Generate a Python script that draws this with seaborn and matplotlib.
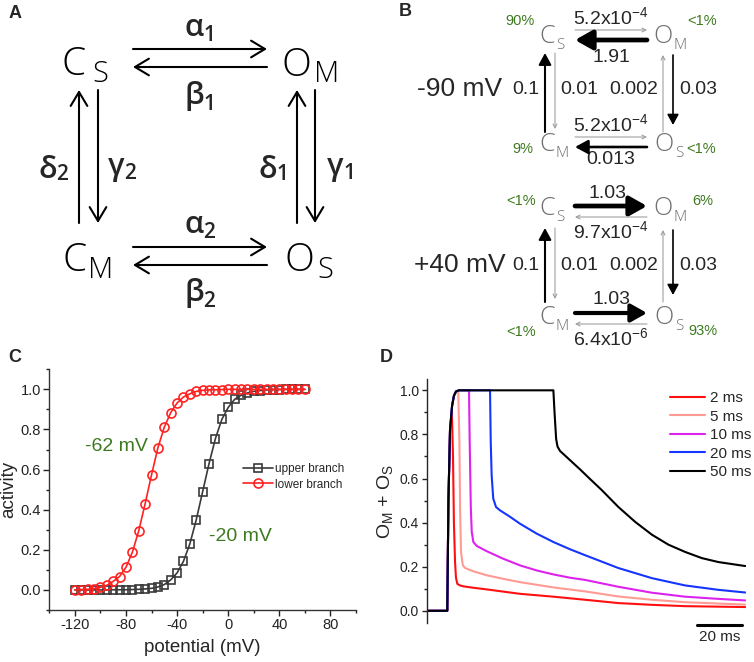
import matplotlib.pyplot as plt
import seaborn as sns
from matplotlib.ticker import MultipleLocator

# ---- panel C: activity vs potential ----
potential = [-120, -115, -110, -105, -100, -95, -90, -85, -80, -75, -70, -65, -60,
             -55, -50, -45, -40, -35, -30, -25, -20, -15, -10, -5, 0, 5, 10, 15,
             20, 25, 30, 35, 40, 45, 50, 55, 60]
upper_branch = [0.0, 0.0, 0.0, 0.0, 0.0, 0.0, 0.001, 0.001, 0.001, 0.002, 0.003, 0.005,
                0.008, 0.015, 0.027, 0.05, 0.085, 0.143, 0.23, 0.35, 0.49, 0.63, 0.755,
                0.85, 0.91, 0.95, 0.97, 0.982, 0.99, 0.994, 0.997, 0.998, 0.999, 1.0,
                1.0, 1.0, 1.0]
lower_branch = [0.0, 0.002, 0.003, 0.007, 0.013, 0.023, 0.043, 0.067, 0.113, 0.188,
                0.295, 0.43, 0.574, 0.709, 0.812, 0.884, 0.932, 0.962, 0.978, 0.99,
                0.995, 0.997, 0.998, 0.999, 1.0, 1.0, 1.0, 1.0, 1.0, 1.0, 1.0, 1.0,
                1.0, 1.0, 1.0, 1.0, 1.0]

# ---- panel D: O_M + O_S after pulses of different length (time in ms) ----
pulse_labels = ['2 ms', '5 ms', '10 ms', '20 ms', '50 ms']
t_2 = [0, 9.0, 9.5, 10.2, 11.0, 11.5, 11.9, 12.4, 12.8, 13.4, 14.6, 16.0, 20.0, 26.3,
       33.5, 40.8, 55.4, 69.3, 83.8, 98.5, 113.0, 139.3]
o_2 = [0, 0, 0.5, 0.82, 0.9, 0.7, 0.4, 0.22, 0.15, 0.122, 0.115, 0.111, 0.105, 0.097,
       0.087, 0.077, 0.064, 0.05, 0.035, 0.027, 0.021, 0.017]
t_5 = [0, 9.0, 9.5, 10.2, 11.1, 11.9, 12.8, 13.8, 14.3, 14.6, 15.0, 15.8, 16.8, 20.4,
       26.3, 33.5, 40.8, 55.4, 69.3, 83.8, 98.5, 113.0, 139.3]
o_5 = [0, 0, 0.5, 0.82, 0.93, 0.975, 0.99, 0.994, 0.767, 0.464, 0.267, 0.206, 0.194,
       0.179, 0.161, 0.145, 0.130, 0.106, 0.088, 0.065, 0.05, 0.039, 0.028]
t_10 = [0, 9.0, 9.5, 10.2, 11.1, 11.9, 12.8, 14.1, 18.5, 18.8, 19.3, 19.7, 20.4, 21.9,
        26.3, 33.5, 40.8, 48.1, 55.4, 62.7, 69.3, 83.8, 98.5, 113.0, 127.6, 139.3]
o_10 = [0, 0, 0.5, 0.82, 0.93, 0.975, 0.995, 1.0, 1.0, 0.767, 0.464, 0.358, 0.312,
        0.294, 0.270, 0.236, 0.206, 0.183, 0.165, 0.15, 0.14, 0.109, 0.082, 0.064,
        0.054, 0.047]
t_20 = [0, 9.0, 9.5, 10.2, 11.1, 11.9, 12.8, 14.1, 27.7, 28.0, 28.4, 29.1, 30.3, 32.0,
        36.5, 40.8, 48.1, 55.4, 62.7, 69.3, 83.8, 98.5, 113.0, 127.6, 139.3]
o_20 = [0, 0, 0.5, 0.82, 0.93, 0.975, 0.995, 1.0, 1.0, 0.767, 0.615, 0.509, 0.471,
        0.456, 0.426, 0.395, 0.35, 0.312, 0.279, 0.252, 0.194, 0.148, 0.115, 0.095,
        0.083]
t_50 = [0, 9.0, 9.5, 10.2, 11.1, 11.9, 12.8, 14.1, 55.4, 55.9, 56.6, 57.2, 58.3, 62.7,
        67.1, 71.5, 76.6, 83.8, 91.2, 98.5, 105.7, 113.0, 120.3, 127.6, 139.3]
o_50 = [0, 0, 0.5, 0.82, 0.93, 0.975, 0.995, 1.0, 1.0, 0.9, 0.78, 0.745, 0.725, 0.683,
        0.641, 0.597, 0.547, 0.471, 0.403, 0.345, 0.300, 0.267, 0.239, 0.221, 0.203]
pulse_colors = ['#ff1010', '#ff9a94', '#dd22ee', '#1535ff', '#000000']

# ---- panel B: rates and occupancies at the two potentials ----
b_voltages = ['-90 mV', '+40 mV']
b_rates = [['5.2x10$^{-4}$', '1.91', '5.2x10$^{-4}$', '0.013'],
           ['1.03', '9.7x10$^{-4}$', '1.03', '6.4x10$^{-6}$']]
b_vertical = ['0.1', '0.01', '0.002', '0.03']
b_occupancy = [['90%', '<1%', '9%', '<1%'], ['<1%', '6%', '<1%', '93%']]

green = '#3d7a1f'
gray = '#9a9a9a'

sns.set_style('ticks')
plt.rcParams['font.family'] = ['Liberation Sans', 'DejaVu Sans']
plt.rcParams['mathtext.fontset'] = 'custom'
plt.rcParams['mathtext.rm'] = 'Liberation Sans'
plt.rcParams['mathtext.it'] = 'Liberation Sans:italic'
plt.rcParams['mathtext.bf'] = 'Liberation Sans:bold'
plt.rcParams['mathtext.default'] = 'regular'
plt.rcParams['axes.unicode_minus'] = False

fig = plt.figure(figsize=(7.54, 6.62), dpi=100)

# overlay in pixel coordinates for the two schemes
ax0 = fig.add_axes([0, 0, 1, 1])
ax0.set_xlim(0, 754)
ax0.set_ylim(662, 0)
ax0.axis('off')

thin = ['Open Sans', 'DejaVu Sans']


def state(x, y, main, sub, size, subsize, dx, dy, color='k'):
    ax0.text(x, y, main, fontsize=size, ha='center', va='baseline', color=color,
             family=thin, weight='light')
    ax0.text(x + dx, y + dy, sub, fontsize=subsize, ha='center', va='baseline',
             color=color, family=thin, weight='light')


def greek(x, y, main, sub, dx, dy):
    ax0.text(x, y, main, fontsize=22, ha='center', va='baseline', family=thin,
             weight='semibold')
    ax0.text(x + dx, y + dy, sub, fontsize=15, ha='center', va='baseline',
             family=thin, weight='semibold')


def arrow(x0, y0, x1, y1, lw, color='k', style='->', ms=12):
    ax0.annotate('', xy=(x1, y1), xytext=(x0, y0),
                 arrowprops=dict(arrowstyle=style, lw=lw, color=color,
                                 shrinkA=0, shrinkB=0, mutation_scale=ms))


# ---- panel A ----
state(74, 75, 'C', 'S', 28, 21, 26, 7)
state(296, 76, 'O', 'M', 28, 21, 31, 6)
state(75, 271, 'C', 'M', 28, 21, 26, 7)
state(299, 271, 'O', 'S', 28, 21, 26, 7)
a_head = '->,head_length=0.5,head_width=0.3'
for x0, y0, x1, y1 in [(133, 49, 267, 49), (267, 67, 133, 67),
                       (133, 247, 267, 247), (267, 265, 133, 265),
                       (79, 223, 79, 90), (98, 90, 98, 223),
                       (297, 223, 297, 90), (315, 90, 315, 223)]:
    arrow(x0, y0, x1, y1, 1.5, style=a_head, ms=20)
greek(194, 36, 'α', '1', 15, 5)
greek(194, 104, 'β', '1', 15, 6)
greek(194, 233, 'α', '2', 15, 5)
greek(194, 301, 'β', '2', 15, 6)
greek(48, 178, 'δ', '2', 14, 2)
greek(116, 175, 'γ', '2', 14, 4)
greek(268, 178, 'δ', '1', 14, 2)
greek(335, 175, 'γ', '1', 14, 4)

# ---- panel B ----
bs_gray = '#707070'
thick = '-|>,head_length=0.8,head_width=0.45'
med = '-|>,head_length=0.7,head_width=0.38'
state_y = [(43, 151), (215, 324)]
volt_y = [89, 265]
pct_xy = [[(520, 21), (702, 21), (523, 149), (701, 149)],
          [(521, 201), (703, 201), (521, 332), (703, 331)]]
rate_xy = [[(611, 17), (611, 57), (611, 124), (611, 159)],
           [(608, 193), (611, 231), (611, 300), (611, 338)]]
vert_y = [(53, 132), (228, 302)]
for i in range(2):
    top_y, bot_y = state_y[i]
    state(547, top_y, 'C', 'S', 18, 11, 13, 6, bs_gray)
    state(663, top_y, 'O', 'M', 18, 11, 17, 6, bs_gray)
    state(547, bot_y, 'C', 'M', 18, 11, 15, 6, bs_gray)
    state(664, bot_y, 'O', 'S', 18, 11, 15, 6, bs_gray)
    ax0.text(460, volt_y[i], b_voltages[i], fontsize=19, ha='center', va='center')
    for x, s in zip([526, 579, 634, 698], b_vertical):
        ax0.text(x, volt_y[i], s, fontsize=14, ha='center', va='center')
    for (x, y), s in zip(pct_xy[i], b_occupancy[i]):
        ax0.text(x, y, s, fontsize=10.5, ha='center', va='center', color=green)
    for (x, y), s in zip(rate_xy[i], b_rates[i]):
        ax0.text(x, y, s, fontsize=14, ha='center', va='center')
    # vertical transitions are the same at both potentials
    v0, v1 = vert_y[i]
    arrow(545, v1, 545, v0, 1.5, style=med, ms=10)
    arrow(555, v0, 555, v1 - 3, 0.75, gray, ms=7)
    arrow(663, v1, 663, v0 + 2, 0.75, gray, ms=7)
    arrow(673, v0 + 2, 673, v1 - 7, 1.2, style=med, ms=9)

arrow(575, 30, 647, 30, 0.75, gray, ms=7)
arrow(647, 40, 575, 40, 3.4, style=thick, ms=13)
arrow(575, 137, 647, 137, 0.75, gray, ms=7)
arrow(647, 147, 575, 147, 1.9, style=med, ms=11)
arrow(575, 206, 647, 206, 3.4, style=thick, ms=13)
arrow(647, 217, 575, 217, 0.75, gray, ms=7)
arrow(575, 313, 647, 313, 3.0, style=thick, ms=12)
arrow(647, 324, 575, 324, 0.75, gray, ms=7)

# panel letters
for x, y, s in [(15, 14, 'A'), (405, 11, 'B'), (15, 357, 'C'), (386, 358, 'D')]:
    ax0.text(x, y, s, fontsize=13, weight='bold', ha='center', va='center')

# ---- panel C ----
ax_c = fig.add_axes([49.3 / 754, 1 - 610 / 662, 306.7 / 754, 240.7 / 662])
sns.lineplot(x=potential, y=upper_branch, ax=ax_c, color='#3a3a3a', lw=1.2,
             marker='s', ms=5.5, mfc='none', mec='#3a3a3a', mew=1.2,
             label='upper branch', estimator=None, sort=False)
sns.lineplot(x=potential, y=lower_branch, ax=ax_c, color='#ff2222', lw=1.2,
             marker='o', ms=6.5, mfc='none', mec='#ff2222', mew=1.2,
             label='lower branch', estimator=None, sort=False)
ax_c.set_xlim(-140, 100)
ax_c.set_ylim(-0.1, 1.1)
ax_c.xaxis.set_major_locator(MultipleLocator(40))
ax_c.xaxis.set_minor_locator(MultipleLocator(20))
ax_c.yaxis.set_major_locator(MultipleLocator(0.2))
ax_c.yaxis.set_minor_locator(MultipleLocator(0.1))
ax_c.yaxis.set_major_formatter(plt.FormatStrFormatter('%.1f'))
ax_c.tick_params(which='major', direction='out', length=4, width=1, labelsize=10.5,
                 pad=2, colors='#222222')
ax_c.tick_params(which='minor', direction='out', length=2, width=1, colors='#222222')
for sp in ['left', 'bottom']:
    ax_c.spines[sp].set_linewidth(1)
    ax_c.spines[sp].set_color('#333333')
sns.despine(ax=ax_c)
ax_c.set_xlabel('potential (mV)', fontsize=13.5, labelpad=5)
ax_c.set_ylabel('activity', fontsize=13.5, labelpad=2)
ax_c.text(-87.3, 0.713, '-62 mV', fontsize=14, color=green, ha='center', va='center')
ax_c.text(9.9, 0.264, '-20 mV', fontsize=14, color=green, ha='center', va='center')
ax_c.legend(loc='upper left', bbox_to_anchor=(243 / 754, 1 - 463 / 662),
            bbox_transform=fig.transFigure, frameon=False, fontsize=8.5,
            handlelength=2.5, handletextpad=0.2, labelspacing=0.3,
            borderpad=0, borderaxespad=0)

# ---- panel D ----
ax_d = fig.add_axes([426.7 / 754, 1 - 622.7 / 662, 319 / 754, 243.4 / 662])
for tt, oo, lab, col in zip([t_2, t_5, t_10, t_20, t_50], [o_2, o_5, o_10, o_20, o_50],
                            pulse_labels, pulse_colors):
    sns.lineplot(x=tt, y=oo, ax=ax_d, color=col, lw=1.5, label=lab,
                 estimator=None, sort=False)
ax_d.set_xlim(0, 139.5)
ax_d.set_ylim(-0.054, 1.05)
ax_d.set_xticks([])
ax_d.yaxis.set_major_locator(MultipleLocator(0.2))
ax_d.yaxis.set_minor_locator(MultipleLocator(0.1))
ax_d.yaxis.set_major_formatter(plt.FormatStrFormatter('%.1f'))
ax_d.tick_params(which='major', direction='out', length=3.8, width=1, labelsize=10,
                 pad=2, colors='#222222')
ax_d.tick_params(which='minor', direction='out', length=2, width=1, colors='#222222')
ax_d.spines['left'].set_linewidth(1)
sns.despine(ax=ax_d, bottom=True)
ax_d.set_xlabel('')
ax_d.set_ylabel('O$_M$ + O$_S$', fontsize=14, labelpad=3)
# 20 ms scale bar
ax_d.plot([118.2, 138.1], [-0.066, -0.066], color='k', lw=2.2, clip_on=False)
ax_d.text(128.0, -0.12, '20 ms', fontsize=11, ha='center', va='center')
ax_d.legend(loc='upper left', bbox_to_anchor=(670 / 754, 1 - 391 / 662),
            bbox_transform=fig.transFigure, frameon=False, fontsize=11,
            handlelength=2.3, handletextpad=0.3, labelspacing=0.3,
            borderpad=0, borderaxespad=0)

fig.savefig('out.png', dpi=100)
